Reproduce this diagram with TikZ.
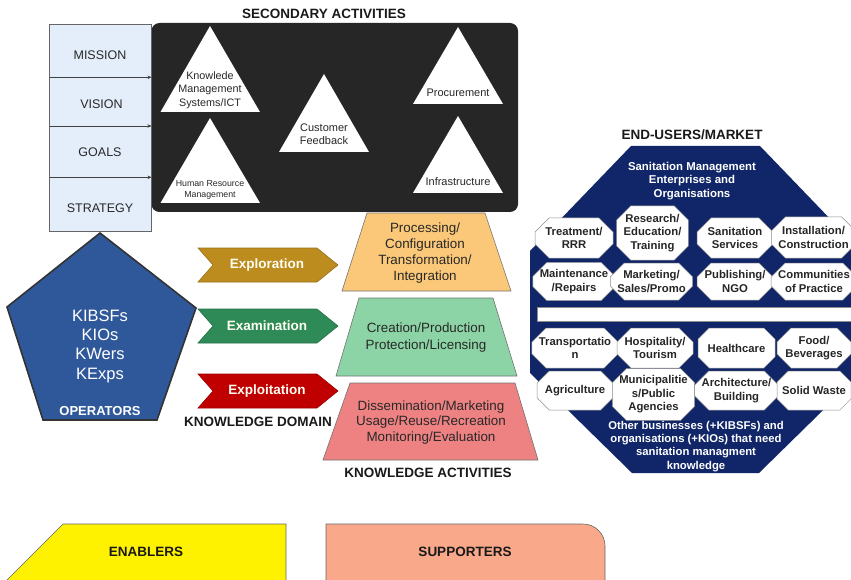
\documentclass[tikz,border=0pt]{standalone}
\usepackage{fontspec}
\setmainfont{Liberation Sans}
\usetikzlibrary{shapes.misc,arrows.meta}
\definecolor{boxblue}{RGB}{228,238,250}
\definecolor{secbg}{RGB}{38,38,38}
\definecolor{pentblue}{RGB}{47,88,155}
\definecolor{navy}{RGB}{16,38,104}
\definecolor{goldc}{RGB}{189,140,31}
\definecolor{greenc}{RGB}{46,139,87}
\definecolor{redc}{RGB}{192,0,0}
\definecolor{orangec}{RGB}{250,200,120}
\definecolor{mintc}{RGB}{140,212,165}
\definecolor{salmonc}{RGB}{238,130,130}
\definecolor{peachc}{RGB}{250,168,138}
\definecolor{txt}{RGB}{40,40,40}
\newcommand\obx[6]{\node[obox, minimum width=#4pt, minimum height=#5pt] (#1) at (#2,#3) {#6};}
\begin{document}
\begin{tikzpicture}[x=1pt,y=-1pt,
  hdr/.style={font=\bfseries\fontsize{13.5}{16}\selectfont, text=black!90},
  lbox/.style={font=\fontsize{12.5}{15}\selectfont, text=txt},
  tri/.style={fill=white, draw=none},
  tritxt/.style={font=\fontsize{10.8}{13.3}\selectfont, text=txt, align=center},
  chev/.style={line width=0.6pt},
  chevtxt/.style={font=\bfseries\fontsize{13.5}{15}\selectfont, text=white!95!yellow},
  trap/.style={draw=black!55, line width=0.6pt},
  traptxt/.style={font=\fontsize{13.4}{16}\selectfont, text=txt, align=center},
  obox/.style={chamfered rectangle, chamfered rectangle xsep=7pt, chamfered rectangle ysep=7pt,
    fill=white, draw=black!45, line width=0.5pt, inner sep=0pt, align=center,
    font=\bfseries\fontsize{11.3}{13.5}\selectfont, text=black!85},
  navytxt/.style={font=\bfseries\fontsize{11.4}{13.4}\selectfont, text=white, align=center},
  sep/.style={draw=black!75, line width=0.6pt, -{Stealth[length=4pt,width=3.5pt]}}
]
\useasboundingbox (0,0) rectangle (851,580);
\clip (0,0) rectangle (851,580);

% secondary activities
\node[hdr] (sectitle) at (324,14) {SECONDARY ACTIVITIES};
\fill[secbg, rounded corners=8pt] (151.5,23) rectangle (518,212);
\fill[tri] (210,26) -- (260,112) -- (160.5,112) -- cycle;
\node[tritxt] (kms) at (210,90) {Knowlede\\Management\\Systems/ICT};
\fill[tri] (210,118) -- (260,203) -- (160.5,203) -- cycle;
\node[tritxt, font=\fontsize{8.8}{11.5}\selectfont] (hrm) at (210,190) {Human Resource\\Management};
\fill[tri] (324,74) -- (369,152) -- (279,152) -- cycle;
\node[tritxt, font=\fontsize{11}{13.3}\selectfont] (cf) at (324,134) {Customer\\Feedback};
\fill[tri] (458,27) -- (503,104) -- (413,104) -- cycle;
\node[tritxt, font=\fontsize{11}{13.3}\selectfont] (proc) at (458,92.5) {Procurement};
\fill[tri] (458,116) -- (503,193) -- (413,193) -- cycle;
\node[tritxt, font=\fontsize{11}{13.3}\selectfont] (infra) at (458,182) {Infrastructure};

% left column
\draw[fill=boxblue, draw=black!60, line width=0.6pt] (49.5,24) rectangle (151,231.5);
\coordinate (s1l) at (49.5,77.3); \coordinate (s1r) at (151.5,77.3);
\coordinate (s2l) at (49.5,126); \coordinate (s2r) at (151.5,126);
\coordinate (s3l) at (49.5,177.3); \coordinate (s3r) at (151.5,177.3);
\draw[sep] (s1l) -- (s1r);
\draw[sep] (s2l) -- (s2r);
\draw[sep] (s3l) -- (s3r);
\node[lbox] (mission) at (100,55) {MISSION};
\node[lbox] (vision) at (101.5,104) {VISION};
\node[lbox] (goals) at (100,152) {GOALS};
\node[lbox] (strategy) at (100,208) {STRATEGY};

% pentagon
\draw[fill=pentblue, draw=black!80, line width=1.6pt, line join=miter]
  (100,233) -- (196,308) -- (157,420) -- (43,420) -- (7,307) -- cycle;
\node[font=\fontsize{16.5}{19.3}\selectfont, text=white, align=center] (ops) at (100,346) {KIBSFs\\KIOs\\KWers\\KExps};
\node[font=\bfseries\fontsize{13}{15}\selectfont, text=white] (opslbl) at (100,411.5) {OPERATORS};

% chevrons
\draw[chev, fill=goldc, draw=goldc!80!black] (198,248) -- (317,248) -- (338,265) -- (317,282) -- (198,282) -- (213,265) -- cycle;
\node[chevtxt] (explo) at (267,265) {Exploration};
\draw[chev, fill=greenc, draw=greenc!80!black] (198,309) -- (317,309) -- (338,326) -- (317,343) -- (198,343) -- (213,326) -- cycle;
\node[chevtxt] (exam) at (267,326) {Examination};
\draw[chev, fill=redc, draw=redc!80!black] (198,374) -- (317,374) -- (338,391) -- (317,408) -- (198,408) -- (213,391) -- cycle;
\node[chevtxt] (exploit) at (267,391) {Exploitation};
\node[hdr] (kd) at (258,422) {KNOWLEDGE DOMAIN};

% trapezoids
\draw[trap, fill=orangec] (367,213) -- (485,213) -- (511,291) -- (342,291) -- cycle;
\node[traptxt] (t1) at (425,253) {Processing/\\Configuration\\Transformation/\\Integration};
\draw[trap, fill=mintc] (359,298) -- (493,298) -- (517,376) -- (336,376) -- cycle;
\node[traptxt, font=\fontsize{13.4}{17}\selectfont] (t2) at (426,337.5) {Creation/Production\\Protection/Licensing};
\draw[trap, fill=salmonc] (350,383) -- (515,383) -- (538,460) -- (323,460) -- cycle;
\node[traptxt, font=\fontsize{13.4}{15.5}\selectfont] (t3) at (431,422.5) {Dissemination/Marketing\\Usage/Reuse/Recreation\\Monitoring/Evaluation};
\node[hdr] (ka) at (428,473) {KNOWLEDGE ACTIVITIES};

% end users octagon
\node[hdr] (eu) at (692,135) {END-USERS/MARKET};
\fill[navy] (631,146) -- (760,146) -- (861,251) -- (861,373) -- (759,473) -- (632,473) -- (530,373) -- (530,251) -- cycle;
\node[navytxt] (sme) at (692,181) {Sanitation Management\\Enterprises and\\Organisations};
\obx{b1}{574}{238}{78}{40}{Treatment/\\RRR}
\obx{b2}{652.5}{233}{71}{54}{Research/\\Education/\\Training}
\obx{b3}{735}{238}{76}{40}{Sanitation\\Services}
\obx{b4}{813.5}{237.5}{77}{41}{Installation/\\Construction}
\obx{b5}{574}{281.5}{78}{37}{Maintenance\\/Repairs}
\obx{b6}{651.5}{281.5}{73}{37}{Marketing/\\Sales/Promo}
\obx{b7}{735}{281.5}{76}{37}{Publishing/\\NGO}
\obx{b8}{814}{281.5}{76}{37}{Communities\\of Practice}
\fill[white] (537,307) rectangle (855,321);
\draw[black!45, line width=0.5pt] (537,307) -- (855,307) (537,321) -- (855,321) (537,307) -- (537,321);
\obx{c1}{575}{348}{76}{40}{Transportatio\\n}
\obx{c2}{655}{348}{76}{40}{Hospitality/\\Tourism}
\obx{c3}{736.5}{348}{77}{40}{Healthcare}
\obx{c4}{814}{348}{74}{40}{Food/\\Beverages}
\obx{c5}{575}{390.5}{76}{39}{Agriculture}
\obx{c6}{653.5}{394.5}{73}{47}{Municipalitie\\s/Public\\Agencies}
\obx{c7}{736.5}{390.5}{77}{39}{Architecture/\\Building}
\obx{c8}{814}{390.5}{74}{39}{Solid Waste}
\node[navytxt, font=\bfseries\fontsize{11.3}{13.2}\selectfont] (other) at (696,446.5) {Other businesses (+KIBSFs) and\\organisations (+KIOs) that need\\sanitation managment\\knowledge};

% enablers / supporters
\draw[fill=yellow, draw=black!60, line width=0.6pt] (63,524) -- (286,524) -- (286,590) -- (-3,590) -- cycle;
\node[hdr] (en) at (146,552) {ENABLERS};
\draw[fill=peachc, draw=black!60, line width=0.6pt] (326,590) -- (326,524) -- (583,524) arc[start angle=-90, end angle=0, radius=22] -- (605,590);
\node[hdr] (sup) at (465,552) {SUPPORTERS};
\end{tikzpicture}
\end{document}
